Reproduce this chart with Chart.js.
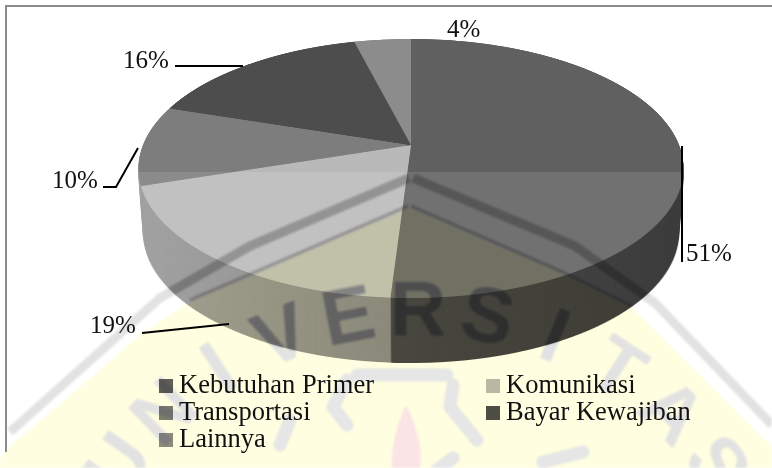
<!DOCTYPE html>
<html lang="id">
<head>
  <meta charset="UTF-8">
  <title>Pengeluaran</title>
  <style>
    html, body { margin: 0; padding: 0; background: #fff; }
    canvas { display: block; }
  </style>
</head>
<body>
<canvas id="pie" width="772" height="468"></canvas>
<script src="https://cdn.jsdelivr.net/npm/chart.js"></script>
<script>
const categories = ["Kebutuhan Primer", "Komunikasi", "Transportasi", "Bayar Kewajiban", "Lainnya"];
const values = [51, 19, 10, 16, 4];
const sliceColors = ["#606060", "#b9b9b9", "#7d7d7d", "#4d4d4d", "#8c8c8c"];
// side wall colours, the Transportasi wall only peeks out next to Komunikasi
const wallColors = ["#606060", "#b9b9b9", "#b9b9b9", "#4d4d4d", "#8c8c8c"];

// where the percent labels and their leader lines sit, same order as values
const labelSpots = [[686, 261], [90, 333], [52, 188], [123, 68], [447, 37]];
const leaders = [
  [[682, 146], [682, 262]],
  [[142, 333], [229, 324]],
  [[103, 187], [116, 187], [138, 148]],
  [[175, 66], [243, 66]],
  []
];
const legendSpots = [[159, 393], [486, 393], [159, 420], [486, 420], [159, 447]];

// the reference is a tilted 3d pie, apex is not in the middle of the ellipse
const cx = 411, apexY = 145, topY = 39, bottomY = 298, rimDepth = 65, radius = 268;
const persp = 0.1815;
const perspA = topY * (1 + persp) - apexY;

let pieMask = null;

function rowToV(y) {
  return (y - apexY) / (perspA - persp * y);
}

function shade(hex, k) {
  const n = parseInt(hex.slice(1), 16);
  const ch = [n >> 16, (n >> 8) & 255, n & 255].map(c => k > 0 ? c + (255 - c) * k : c * (1 + k));
  return "rgb(" + ch.map(Math.round).join(",") + ")";
}

function paintPie(ctx, chart, colorFor) {
  const arcs = chart.getDatasetMeta(0).data;
  const ax = arcs[0].x, ay = arcs[0].y, r = arcs[0].outerRadius;
  const base = arcs.map(a => a.options);
  for (let y = topY; y < bottomY; y++) {
    const v0 = rowToV(y), v1 = Math.max(-1, rowToV(y + 1));
    const sy0 = ay - r * v0, sy1 = ay - r * v1;
    const sy = 1 / (sy1 - sy0);
    const w = (radius / r) / (1 + persp * (v0 + v1) / 2);
    ctx.save();
    ctx.beginPath();
    ctx.rect(0, y, 772, 1);
    ctx.clip();
    ctx.transform(w, 0, 0, sy, cx - ax * w, y - sy0 * sy);
    arcs.forEach((a, i) => {
      a.options = Object.assign({}, base[i], { backgroundColor: colorFor(i, y) });
      a.draw(ctx);
    });
    ctx.restore();
  }
  arcs.forEach((a, i) => { a.options = base[i]; });
}

function paintRim(ctx, chart) {
  const one = document.createElement("canvas");
  one.width = 772; one.height = 468;
  paintPie(one.getContext("2d"), chart, i => shade(wallColors[i], -0.12));
  const rim = document.createElement("canvas");
  rim.width = 772; rim.height = 468;
  const rc = rim.getContext("2d");
  rc.drawImage(one, 0, 0);
  for (let d = rimDepth; d > 0; d--) {
    const s = 1 - d * 0.00028;
    rc.drawImage(one, cx - cx * s, d, 772 * s, 468);
  }
  // side wall gets darker going to the right
  const g = rc.createLinearGradient(137, 0, 687, 0);
  g.addColorStop(0, "rgba(0,0,0,0)");
  g.addColorStop(0.47, "rgba(0,0,0,0.15)");
  g.addColorStop(1, "rgba(0,0,0,0.28)");
  rc.globalCompositeOperation = "source-atop";
  rc.fillStyle = g;
  rc.fillRect(0, 0, 772, 468);
  ctx.drawImage(rim, 0, 0);
  pieMask = rim;
}

function line(ctx, pts) {
  ctx.beginPath();
  pts.forEach((p, i) => i ? ctx.lineTo(p[0], p[1]) : ctx.moveTo(p[0], p[1]));
  ctx.stroke();
}

function stripesAndLetters(c, stripeColor, letterColor) {
  c.strokeStyle = stripeColor;
  c.lineJoin = "round";
  c.lineWidth = 9;
  line(c, [[409, 178], [250, 246], [160, 298], [10, 432]]);
  line(c, [[413, 178], [575, 246], [655, 303], [772, 425]]);
  c.lineWidth = 3;
  line(c, [[408, 206], [253, 273], [190, 300]]);
  line(c, [[411, 206], [565, 273], [632, 306]]);

  // UNIVERSITAS on its arc, R is the middle letter
  c.fillStyle = letterColor;
  c.font = "bold 78px 'Liberation Sans'";
  c.textAlign = "center";
  c.textBaseline = "alphabetic";
  "UNIVERSITAS".split("").forEach((ch, i) => {
    c.save();
    c.translate(418, 675);
    c.rotate((i - 5) * 11 * Math.PI / 180);
    c.fillText(ch, 0, -340);
    c.restore();
  });
}

function paintWatermark(ctx) {
  const wm = document.createElement("canvas");
  wm.width = 772; wm.height = 468;
  const c = wm.getContext("2d");
  c.fillStyle = "#fff";
  c.fillRect(0, 0, 772, 468);

  c.fillStyle = "#fffee0";
  c.beginPath();
  [[408, 208], [253, 275], [190, 302], [143, 333], [10, 447], [0, 458], [0, 468], [772, 468], [772, 447], [632, 308], [565, 275]]
    .forEach(p => c.lineTo(p[0], p[1]));
  c.fill();

  stripesAndLetters(c, "#e2e2e2", "#e2e2e2");

  // the crest under the legend
  c.lineCap = "round";
  c.strokeStyle = "#e6e6e6";
  c.lineWidth = 13;
  line(c, [[357, 375], [447, 375]]);
  line(c, [[347, 380], [333, 407], [347, 425]]);
  line(c, [[453, 385], [450, 407], [477, 440]]);
  line(c, [[290, 420], [280, 445]]);
  line(c, [[543, 462], [583, 452]]);
  line(c, [[453, 458], [437, 470]]);
  c.lineCap = "butt";
  c.fillStyle = "#fbe4e6";
  c.beginPath();
  c.moveTo(406, 405);
  c.quadraticCurveTo(424, 440, 420, 468);
  c.lineTo(392, 468);
  c.quadraticCurveTo(390, 440, 406, 405);
  c.fill();

  ctx.save();
  ctx.globalCompositeOperation = "multiply";
  ctx.filter = "blur(1px)";
  ctx.drawImage(wm, 0, 0);
  ctx.restore();

  // the marks bite harder where they cross the pie
  const over = document.createElement("canvas");
  over.width = 772; over.height = 468;
  const oc = over.getContext("2d");
  stripesAndLetters(oc, "#dcdcdc", "#c4c4c4");
  oc.globalCompositeOperation = "destination-in";
  oc.drawImage(pieMask, 0, 0);
  ctx.save();
  ctx.globalCompositeOperation = "multiply";
  ctx.filter = "blur(1px)";
  ctx.drawImage(over, 0, 0);
  ctx.restore();
}

const pie3d = {
  id: "pie3d",
  beforeDatasetsDraw(chart) {
    const ctx = chart.ctx;
    ctx.save();
    ctx.fillStyle = "#fff";
    ctx.fillRect(0, 0, 772, 468);
    ctx.strokeStyle = "#8c8c8c";
    ctx.lineWidth = 2;
    line(ctx, [[6, 452], [6, 6], [772, 6]]);
    ctx.restore();
    paintRim(ctx, chart);
    paintPie(ctx, chart, (i, y) => y >= 172 ? shade(sliceColors[i], 0.11) : sliceColors[i]);
    return false;
  },
  afterDraw(chart) {
    const ctx = chart.ctx;
    ctx.save();
    // legend squares go under the watermark so they pick up its tint
    categories.forEach((name, i) => {
      ctx.fillStyle = sliceColors[i];
      ctx.fillRect(legendSpots[i][0], legendSpots[i][1] - 14, 14, 14);
    });
    paintWatermark(ctx);

    ctx.fillStyle = "#111";
    ctx.strokeStyle = "#000";
    ctx.lineWidth = 2;
    ctx.font = "25px 'Liberation Serif'";
    ctx.textBaseline = "alphabetic";
    values.forEach((v, i) => {
      ctx.fillText(v + "%", labelSpots[i][0], labelSpots[i][1]);
      if (leaders[i].length) line(ctx, leaders[i]);
    });
    ctx.font = "26.5px 'Liberation Serif'";
    categories.forEach((name, i) => {
      ctx.fillText(name, legendSpots[i][0] + 20, legendSpots[i][1]);
    });
    ctx.restore();
  }
};

new Chart(document.getElementById("pie"), {
  type: "pie",
  data: {
    labels: categories,
    datasets: [{ data: values, backgroundColor: sliceColors, borderWidth: 0 }]
  },
  options: {
    responsive: false,
    animation: false,
    plugins: { legend: { display: false }, tooltip: { enabled: false } }
  },
  plugins: [pie3d]
});
</script>
</body>
</html>
